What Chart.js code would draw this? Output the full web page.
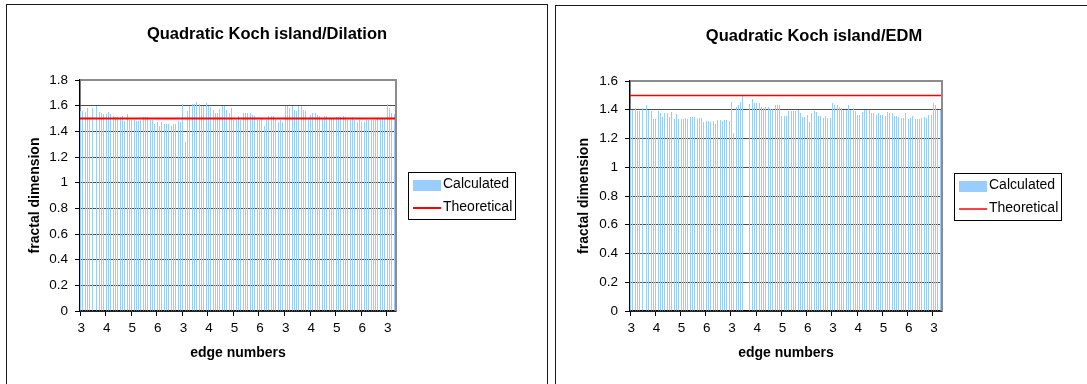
<!DOCTYPE html>
<html>
<head>
<meta charset="utf-8">
<script src="https://cdn.jsdelivr.net/npm/chart.js@4.4.1/dist/chart.umd.min.js"></script>
<style>
  html, body { margin: 0; padding: 0; background: #fff; overflow: hidden; width: 1087px; height: 384px; }
  canvas { position: absolute; top: 0; }
  .frame { position: absolute; border: 1px solid #1a1a1a; box-sizing: border-box; pointer-events: none; }
</style>
</head>
<body>
<canvas id="dilation" width="545" height="384" style="left:0"></canvas>
<canvas id="edm" width="538" height="384" style="left:549px"></canvas>
<div class="frame" style="left:6px;top:4px;width:542px;height:400px"></div>
<div class="frame" style="left:555px;top:5px;width:560px;height:400px"></div>
<script>
// Edge numbers of the test shapes, each measured in runs of 11
const edgeNumbers = [3, 4, 5, 6];
const runsPerEdge = 11;
const runCount = 136;
const categories = Array.from({ length: runCount },
  (_, i) => String(edgeNumbers[Math.floor(i / runsPerEdge) % edgeNumbers.length]));

// Theoretical fractal dimension of the quadratic Koch island
const theoreticalDimension = 1.5;

// Calculated fractal dimension, dilation method (null = no result)
const dilationCalculated = [
  1.56, 1.56, 1.55, 1.585, 1.515, 1.585, null, 1.60, 1.55, 1.54, 1.535,
  1.535, 1.55, 1.535, 1.52, 1.515, 1.515, 1.515, 1.52, 1.477, 1.533, 1.49,
  1.49, 1.49, 1.48, 1.484, 1.49, 1.515, 1.515, 1.515, 1.49, 1.49, 1.456,
  1.47, 1.44, 1.47, 1.456, 1.456, 1.456, 1.44, 1.46, 1.46, 1.48, 1.47,
  1.615, 1.32, 1.555, 1.60, 1.615, 1.615, 1.63, 1.615, 1.60, 1.60, 1.62,
  1.60, 1.59, 1.565, 1.546, 1.546, 1.577, 1.595, 1.595, 1.565, 1.546, 1.585,
  1.485, 1.485, 1.52, 1.487, 1.546, 1.545, 1.54, 1.54, 1.53, 1.52, 1.485,
  1.485, 1.50, 1.44, 1.49, 1.52, 1.52, 1.52, 1.49, 1.475, 1.485, 1.47,
  1.60, 1.60, 1.585, 1.60, 1.57, 1.56, 1.60, 1.60, 1.565, 1.555, 1.50,
  1.53, 1.546, 1.546, 1.53, 1.523, 1.50, 1.523, 1.523, 1.50, 1.50, 1.50,
  1.515, 1.515, 1.515, 1.523, 1.515, 1.49, 1.49, 1.515, 1.49, 1.475, 1.49,
  1.475, 1.475, 1.49, 1.485, 1.485, 1.485, 1.485, 1.50, 1.50, 1.50, 1.50,
  1.615, 1.585, 1.546, 1.533
];

// Calculated fractal dimension, Euclidean distance map method
const edmCalculated = [
  1.40, 1.40, 1.414, 1.39, 1.39, 1.414, null, 1.434, 1.40, 1.394, 1.338,
  1.338, 1.39, 1.38, 1.35, 1.375, 1.375, 1.35, 1.385, 1.338, 1.372, 1.338,
  1.333, 1.333, 1.345, 1.333, 1.35, 1.35, 1.35, 1.338, 1.345, 1.345, 1.315,
  1.324, 1.324, 1.315, 1.32, 1.30, 1.33, 1.33, 1.324, 1.33, 1.33, 1.324,
  1.455, 1.235, 1.418, 1.434, 1.455, 1.495, null, null, 1.441, 1.476, 1.448,
  1.448, 1.448, 1.42, 1.41, 1.42, 1.42, 1.407, 1.407, 1.434, 1.434, 1.434,
  1.36, 1.36, 1.355, 1.389, 1.389, 1.389, 1.389, 1.398, 1.375, 1.349, 1.349,
  1.362, 1.315, 1.375, 1.389, 1.382, 1.355, 1.355, 1.342, 1.355, 1.342, 1.342,
  1.449, 1.435, 1.435, 1.422, 1.415, 1.40, 1.40, 1.435, 1.40, 1.415, 1.389,
  1.362, 1.362, 1.382, 1.398, 1.398, 1.398, 1.375, 1.375, 1.362, 1.375, 1.362,
  1.362, 1.355, 1.382, 1.375, 1.375, 1.355, 1.355, 1.349, 1.342, 1.342, 1.375,
  1.335, 1.342, 1.355, 1.335, 1.335, 1.335, 1.342, 1.349, 1.342, 1.362, 1.362,
  1.449, 1.435, 1.40, 1.40
];

const FONT = '"Liberation Sans", Arial, Helvetica, sans-serif';
Chart.defaults.font.family = FONT;
Chart.defaults.color = '#000';

// Snap each bar to whole pixels with a fixed pixel width, so the narrow
// columns stay crisp and leave thin white seams where the slots round apart
const crispBars = {
  id: 'crispBars',
  beforeDatasetDraw(chart, args) {
    if (args.meta.type !== 'bar') return;
    for (const el of args.meta.data) {
      const w = Math.max(1, Math.round(el.width));
      const l = Math.round(el.x - el.width / 2);
      el.x = l + w / 2;
      el.width = w;
      el.y = Math.round(el.y);
    }
  }
};

// Chart title, grey plot frame and the boxed legend on the right
const panelDecor = {
  id: 'panelDecor',
  afterDraw(chart, args, o) {
    const { ctx, chartArea: a } = chart;
    ctx.save();
    ctx.strokeStyle = '#8c8c8c';
    ctx.lineWidth = 2;
    ctx.beginPath();
    ctx.moveTo(a.left + 1, a.top);
    ctx.lineTo(a.right, a.top);
    ctx.lineTo(a.right, a.bottom);
    ctx.stroke();

    ctx.fillStyle = '#000';
    ctx.font = 'bold 16.5px ' + FONT;
    ctx.textAlign = 'center';
    ctx.textBaseline = 'middle';
    ctx.fillText(o.title, o.titleX, o.titleY);

    const L = o.legend;
    const [bars, line] = chart.data.datasets;
    ctx.strokeStyle = '#000';
    ctx.lineWidth = 1;
    ctx.strokeRect(L.x + 0.5, L.y + 0.5, L.w, L.h);
    ctx.fillStyle = bars.backgroundColor;
    ctx.fillRect(L.x + 5, L.y + 8, 28, 11);
    ctx.strokeStyle = line.borderColor;
    ctx.lineWidth = line.borderWidth;
    ctx.beginPath();
    ctx.moveTo(L.x + 5, L.y + 36);
    ctx.lineTo(L.x + 33, L.y + 36);
    ctx.stroke();
    ctx.fillStyle = '#000';
    ctx.font = '14px ' + FONT;
    ctx.textAlign = 'left';
    ctx.fillText(bars.label, L.x + 35, L.y + 12);
    ctx.fillText(line.label, L.x + 35, L.y + 35);
    ctx.restore();
  }
};

function buildChart(id, p) {
  const everyEdge = (c) => (c.index % runsPerEdge === 0 ? '#000' : 'rgba(0,0,0,0)');
  return new Chart(document.getElementById(id), {
    type: 'bar',
    data: {
      labels: categories,
      datasets: [
        {
          type: 'bar', label: 'Calculated', data: p.values,
          backgroundColor: '#99CCFF', barPercentage: 0.86, categoryPercentage: 1,
          inflateAmount: 0, order: 1, xAxisID: 'x', yAxisID: 'y'
        },
        {
          type: 'line', label: 'Theoretical',
          data: [{ x: 0, y: theoreticalDimension }, { x: 1, y: theoreticalDimension }],
          borderColor: '#FF0000', borderWidth: p.lineWidth, pointRadius: 0, fill: false,
          order: 0, xAxisID: 'xLine', yAxisID: 'y'
        }
      ]
    },
    options: {
      responsive: false,
      animation: false,
      events: [],
      layout: { padding: { left: 0, top: p.top, right: p.padRight, bottom: 13 } },
      plugins: {
        legend: { display: false },
        tooltip: { enabled: false },
        panelDecor: { title: p.title, titleX: p.titleX, titleY: p.titleY, legend: p.legend }
      },
      scales: {
        x: {
          type: 'category', axis: 'x', position: 'bottom', offset: true,
          afterFit(s) { s.height = 60; },
          grid: {
            offset: true, drawOnChartArea: false, drawTicks: true, tickLength: 5,
            color: everyEdge, tickColor: everyEdge, lineWidth: 1
          },
          border: { display: true, color: '#000', width: 1.5 },
          ticks: {
            autoSkip: false, maxRotation: 0, minRotation: 0, padding: 4,
            color: '#000', font: { size: 13.5 },
            callback(v, i) { return i % runsPerEdge === 0 ? this.getLabelForValue(v) : ''; }
          },
          title: {
            display: true, text: 'edge numbers', color: '#000',
            font: { size: 14, weight: 'bold' }, padding: { top: 0, bottom: 9 }
          }
        },
        xLine: {
          type: 'linear', axis: 'x', position: 'bottom', display: false,
          offset: false, grid: { offset: false }, min: 0, max: 1
        },
        y: {
          min: 0, max: p.yMax,
          afterFit(s) { s.width = p.yWidth; },
          ticks: {
            stepSize: 0.2, padding: 7, color: '#000', font: { size: 13.5 },
            callback: (v) => String(Number(v.toFixed(1)))
          },
          grid: {
            color: (c) => (c.tick && c.tick.value > p.yMax - 1e-6 ? 'rgba(0,0,0,0)' : '#4d4d4d'),
            lineWidth: 1, tickLength: 5, tickColor: '#000', drawTicks: true
          },
          border: { display: true, color: '#000', width: 1.5 },
          title: {
            display: true, text: 'fractal dimension', color: '#000',
            font: { size: 14, weight: 'bold' }, padding: { top: 27, bottom: 0 }
          }
        }
      }
    },
    plugins: [crispBars, panelDecor]
  });
}

buildChart('dilation', {
  values: dilationCalculated, yMax: 1.8, lineWidth: 2,
  top: 80, padRight: 149, yWidth: 80,
  title: 'Quadratic Koch island/Dilation', titleX: 267, titleY: 34,
  legend: { x: 408, y: 172, w: 107, h: 47 }
});

buildChart('edm', {
  values: edmCalculated, yMax: 1.6, lineWidth: 1.5,
  top: 81, padRight: 145, yWidth: 81,
  title: 'Quadratic Koch island/EDM', titleX: 265, titleY: 36,
  legend: { x: 405, y: 173, w: 107, h: 47 }
});
</script>
</body>
</html>
